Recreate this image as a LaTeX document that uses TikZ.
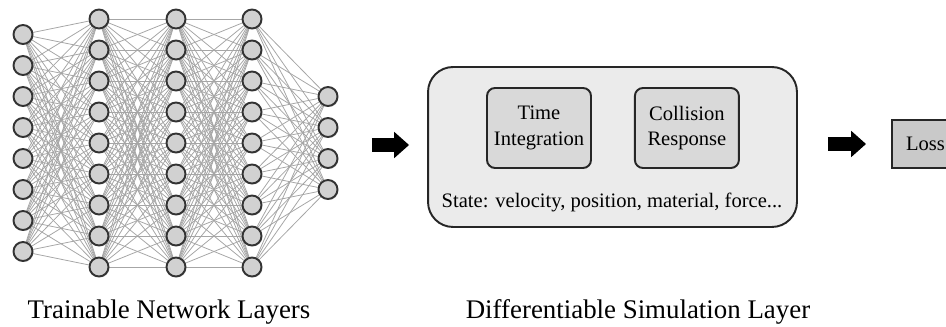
\documentclass[tikz,border=0pt]{standalone}
\usepackage{fontspec}
\setmainfont{Liberation Serif}
\usetikzlibrary{arrows.meta,positioning,backgrounds,shadows}

\begin{document}
\begin{tikzpicture}[
  x=0.02cm, y=-0.02cm,
  neuron/.style={circle, draw=black!80, fill=black!18, line width=1.1pt,
                 minimum size=0.38cm, inner sep=0pt,
                 drop shadow={opacity=0.25, shadow xshift=0.6pt, shadow yshift=-0.6pt}},
  wire/.style={draw=black!35, line width=0.45pt},
  simbox/.style={rectangle, rounded corners=0.5cm, draw=black!85, fill=black!8,
                 line width=1.1pt, minimum width=7.38cm, minimum height=3.2cm},
  stage/.style={rectangle, rounded corners=0.16cm, draw=black!85, fill=black!15,
                line width=1.1pt, minimum width=2.08cm, minimum height=1.6cm,
                align=center, font=\fontsize{11.7}{14.5}\selectfont},
  lossbox/.style={rectangle, draw=black!85, fill=black!21, line width=1.1pt,
                  minimum width=1.34cm, minimum height=0.96cm,
                  font=\fontsize{11.7}{14.5}\selectfont},
  bigarrow/.style={-{Triangle[length=8.5pt, width=14.5pt]}, line width=7.8pt, draw=black},
  caption/.style={anchor=base, font=\fontsize{15.3}{18}\selectfont},
]
\clip (0,0) rectangle (946,327);
\useasboundingbox (0,0) rectangle (946,327);

% network layers: index/size/x
\foreach \l/\n/\x in {1/8/23, 2/9/99, 3/9/176, 4/9/252, 5/4/328}
  \foreach \i in {1,...,\n}
    \node[neuron] (l\l-\i) at (\x, {143+31*(\i-(\n+1)/2)}) {};

% fully connected wires
\begin{scope}[on background layer]
  \foreach \l/\n/\m in {1/8/9, 2/9/9, 3/9/9, 4/9/4} {
    \pgfmathtruncatemacro\nxt{\l+1}
    \foreach \i in {1,...,\n}
      \foreach \j in {1,...,\m}
        \draw[wire] (l\l-\i) -- (l\nxt-\j);
  }
\end{scope}

% simulation layer
\node[simbox] (sim) at (612.5,147) {};
\node[stage] (time) at (539,128) {Time\\Integration};
\node[stage, right=0.84cm of time] (coll) {Collision\\Response};
\node[font=\fontsize{11.7}{14.5}\selectfont, anchor=base] (state) at (612,208)
  {State: velocity, position, material, force...};

\node[lossbox] (loss) at (925.5,144) {Loss};

\coordinate (netout) at (338,145);
\draw[bigarrow, shorten <=0.68cm, shorten >=0.36cm] (netout) -- (netout -| sim.west);
\draw[bigarrow, shorten <=0.6cm, shorten >=0.5cm] (sim.east |- loss.west) -- (loss.west);

\node[caption] (netlbl) at (169,318) {Trainable Network Layers};
\node[caption] (simlbl) at (638,318) {Differentiable Simulation Layer};

\end{tikzpicture}
\end{document}
